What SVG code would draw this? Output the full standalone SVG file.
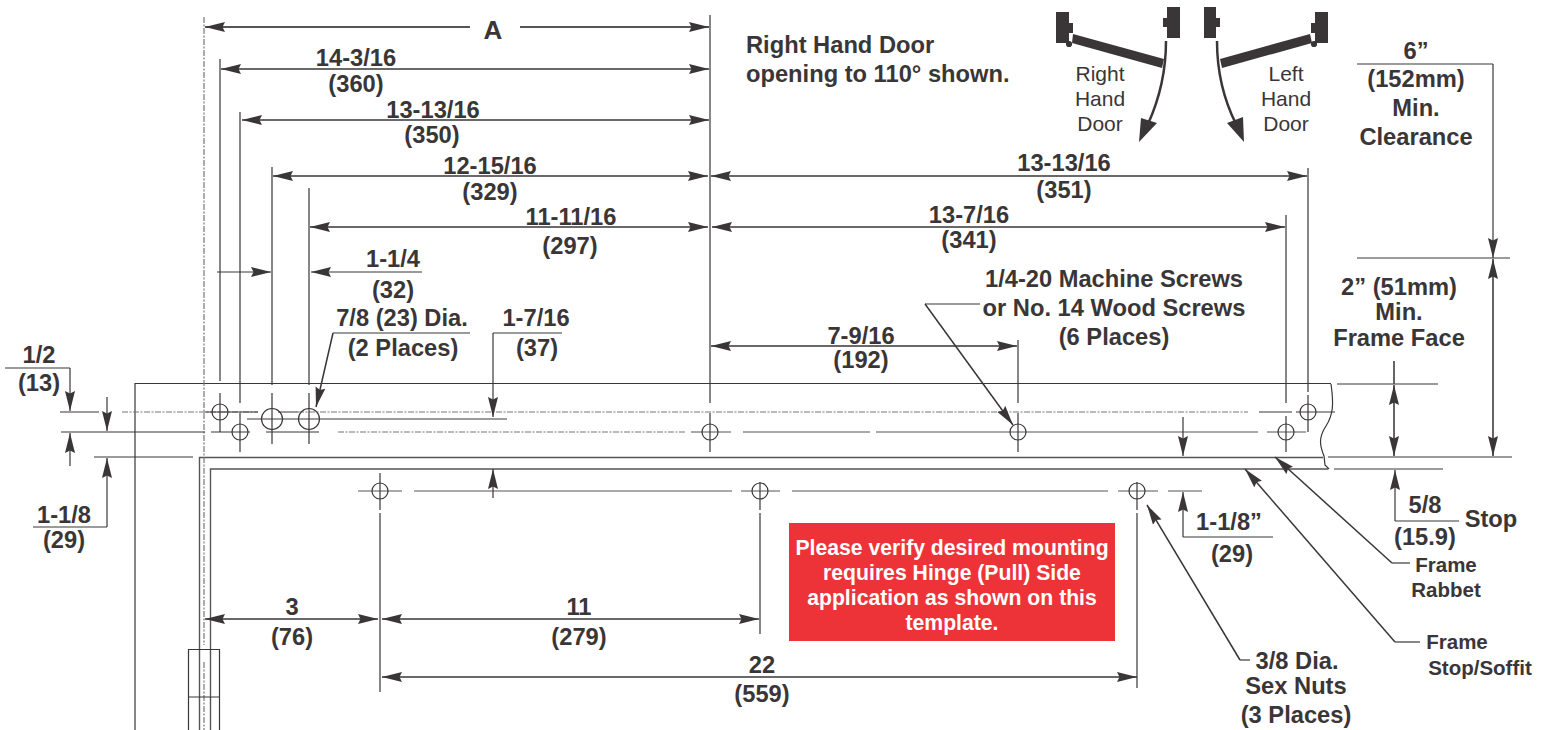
<svg xmlns="http://www.w3.org/2000/svg" width="1549" height="730" viewBox="0 0 1549 730">
<style>
text{font-family:"Liberation Sans",Arial,sans-serif;fill:#3a3637;text-anchor:middle}
.b{font-weight:700;font-size:23.7px}
.s{font-weight:700;font-size:20.5px}
.r{font-size:21px}
.w{font-weight:700;font-size:21.2px;fill:#fff}
.l{fill:none;stroke:#3a3637;stroke-width:1.2}
.t{fill:none;stroke:#555;stroke-width:1.8}
.m{fill:none;stroke:#3a3637;stroke-width:1.5}
.d{fill:none;stroke:#777;stroke-width:1.2;stroke-dasharray:6 1.5 2 1.5}
.a{marker-end:url(#ah)}
.aa{marker-start:url(#ah);marker-end:url(#ah)}
.k{fill:#3a3637}
circle{fill:none;stroke:#3a3637;stroke-width:1.2}
</style>
<defs>
<marker id="ah" markerUnits="userSpaceOnUse" markerWidth="20" markerHeight="11" viewBox="0 0 20 11" refX="20" refY="5.5" orient="auto-start-reverse"><path d="M0 .5L20 5.500L0 10.500L2.500 5.500z" fill="#3a3637"/></marker>
</defs>
<rect width="1549" height="730" fill="#fff"/>
<g id="frame">
<path class="l" d="M135 730V383.500H1331"/>
<path class="l" d="M1331 384C1334 405 1333 415 1326 426C1318 438 1320 446 1324 456L1325 465L1329 469"/>
<path class="t" style="stroke-width:1.4" d="M199.500 730V457.500H1323M210.500 730V469H1328"/>
<path class="d" d="M204 17V645M204 662V730"/>
<path class="d" d="M122 412H258M298 412H1248"/>
<path class="l" d="M60 412H99M205 412H258M278 412H298M1259 412H1292M1296 412H1335"/>
<path class="l" d="M61 432H205M211 432H250M266 432H319"/>
<path class="d" d="M338 432H686"/>
<path class="t" style="stroke-width:1.2" d="M691 432H731M743 432H870M876 432H1258M1267 432H1306"/>
<path class="l" d="M247 419H507M94 457H193"/>
<path class="t" style="stroke-width:1.2" d="M358 491H402M414 491H732M741 491H780M792 491H1108M1118 491H1158M1168 491H1202"/>
</g>
<g id="extensions">
<path class="l" d="M220 59V381M220 393V432"/>
<path class="l" d="M240 112V403M240 413V452"/>
<path class="l" d="M272 167V385M272 393V444"/>
<path class="l" d="M309 188V385M309 393V444"/>
<path class="l" d="M710 15V403M710 413V452"/>
<path class="l" d="M1018 340V403M1018 413V452"/>
<path class="l" d="M1286 215V403M1286 416V452"/>
<path class="l" d="M1308 168V392M1308 395V432"/>
<path class="l" d="M380 473V510M380 513V692M760 482V510M760 513V634M1137 482V510M1137 513V688"/>
</g>
<g id="holes">
<circle cx="220" cy="412" r="8"/><circle cx="240" cy="432" r="8"/>
<circle cx="272" cy="419" r="10.500"/><circle cx="309" cy="419" r="10.500"/>
<circle cx="710" cy="432" r="8"/><circle cx="1018" cy="432" r="8"/>
<circle cx="1286" cy="432" r="8"/><circle cx="1308" cy="412" r="8"/>
<circle cx="380" cy="491" r="8"/><circle cx="760" cy="491" r="8"/><circle cx="1137" cy="491" r="8"/>
</g>
<g id="hinge">
<path class="l" d="M188.500 730V649.500H219.500V730M188.500 697H219.500"/>
</g>
<g id="connectors">
<path class="t a" d="M470 27H205"/><path class="t a" d="M520 27H709"/>
<path class="m aa" d="M221 69H709"/>
<path class="m aa" d="M242 120H709"/>
<path class="m aa" d="M273 176H708"/>
<path class="m aa" d="M310 227H708"/>
<path class="m aa" d="M711 176H1307"/>
<path class="m aa" d="M712 227H1285"/>
<path class="m aa" d="M711 346H1017"/>
<path class="l a" d="M217 272H271"/>
<path class="l a" d="M422 272H311"/>
<path class="l" d="M333 333H470"/><path class="m a" d="M333 333L316 407"/>
<path class="l" d="M493 333H562"/><path class="l a" d="M493 333V417"/>
<path class="l a" d="M493 498V469"/>
<path class="l" d="M5 368H70"/><path class="l a" d="M70 368V411"/>
<path class="l a" d="M107 397V431"/><path class="l a" d="M70 466V433"/>
<path class="l a" d="M107 527V458"/><path class="l" d="M33 527H107"/>
<path class="l a" d="M1183 417V456"/>
<path class="l a" d="M1183 537V492"/><path class="l" d="M1183 537H1273"/>
<path class="l" d="M1337 384H1438M1328 457H1512M1334 469H1443"/>
<path class="l" d="M1357 64H1493M1357 258H1510"/>
<path class="l a" d="M1493 64V258"/>
<path class="t aa" d="M1493 259V456"/>
<path class="t" d="M1394 361V384"/>
<path class="t aa" d="M1394 385V456"/>
<path class="l a" d="M1395 521V470"/><path class="l" d="M1395 521H1459"/>
<path class="m a" d="M1392 563L1275 457"/><path class="l" d="M1392 563H1410"/>
<path class="m a" d="M1395 642L1245 469"/><path class="l" d="M1395 642H1420"/>
<path class="m a" d="M1240 660L1147 505"/><path class="l" d="M1240 660H1250"/>
<path class="l" d="M925 304H980"/><path class="m a" d="M925 304L1013 425"/>
<path class="m aa" d="M205 619H378"/>
<path class="m aa" d="M382 619H759"/>
<path class="m aa" d="M382 677H1137"/>
</g>
<g id="door-right">
<path class="k" d="M1056 12H1069V23H1073V33H1069V43H1056zM1167 7H1180V38H1167V27H1163V18H1167zM1073 34L1164 59L1162 68L1072 43z"/>
<circle cx="1069" cy="44" r="2.500" style="fill:#3a3637"/>
<path d="M1166 41C1166 75 1158 102 1148 124" fill="none" stroke="#3a3637" stroke-width="2.500"/>
<path class="k" d="M1139 142L1141 118L1157 123z"/>
</g>
<g id="door-left">
<path class="k" d="M1204 7H1216V18H1220V27H1216V38H1204zM1315 12H1328V43H1315V33H1311V23H1315zM1310 34L1312 43L1222 68L1220 59z"/>
<circle cx="1314" cy="44" r="2.500" style="fill:#3a3637"/>
<path d="M1217 41C1217 75 1225 102 1236 124" fill="none" stroke="#3a3637" stroke-width="2.500"/>
<path class="k" d="M1244 142L1227 123L1243 117z"/>
</g>
<g id="notice">
<rect x="789" y="523" width="326" height="118" fill="#ee3338"/>
<text class="w" x="952" y="554.500">Please verify desired mounting</text>
<text class="w" x="952" y="579.500">requires Hinge (Pull) Side</text>
<text class="w" x="952" y="604.500">application as shown on this</text>
<text class="w" x="952" y="629.500">template.</text>
</g>
<g id="labels">
<text class="b" x="493" y="39" style="font-size:26px">A</text>
<text class="b" x="356" y="66">14-3/16</text><text class="b" x="356" y="92">(360)</text>
<text class="b" x="433" y="117.500">13-13/16</text><text class="b" x="432" y="143">(350)</text>
<text class="b" x="490" y="174">12-15/16</text><text class="b" x="490" y="200">(329)</text>
<text class="b" x="571" y="225">11-11/16</text><text class="b" x="570" y="254">(297)</text>
<text class="b" x="1064" y="171">13-13/16</text><text class="b" x="1064" y="198">(351)</text>
<text class="b" x="969" y="223">13-7/16</text><text class="b" x="969" y="248">(341)</text>
<text class="b" x="393" y="267">1-1/4</text><text class="b" x="393" y="298">(32)</text>
<text class="b" x="402" y="326">7/8 (23) Dia.</text><text class="b" x="403" y="356">(2 Places)</text>
<text class="b" x="536" y="326">1-7/16</text><text class="b" x="537" y="356">(37)</text>
<text class="b" x="861" y="344">7-9/16</text><text class="b" x="861" y="368">(192)</text>
<text class="b" x="39" y="363">1/2</text><text class="b" x="39" y="391">(13)</text>
<text class="b" x="64" y="523">1-1/8</text><text class="b" x="64" y="548">(29)</text>
<text class="b" x="292" y="615">3</text><text class="b" x="292" y="645">(76)</text>
<text class="b" x="579" y="615">11</text><text class="b" x="579" y="645">(279)</text>
<text class="b" x="762" y="673">22</text><text class="b" x="762" y="702">(559)</text>
<text class="b" x="746" y="53" style="text-anchor:start">Right Hand Door</text>
<text class="b" x="746" y="82" style="text-anchor:start">opening to 110° shown.</text>
<text class="r" x="1100" y="81">Right</text><text class="r" x="1100" y="106">Hand</text><text class="r" x="1100" y="131">Door</text>
<text class="r" x="1286" y="81">Left</text><text class="r" x="1286" y="106">Hand</text><text class="r" x="1286" y="131">Door</text>
<text class="b" x="1416" y="59">6”</text><text class="b" x="1416" y="87">(152mm)</text><text class="b" x="1416" y="116">Min.</text><text class="b" x="1416" y="145">Clearance</text>
<text class="b" x="1399" y="295">2” (51mm)</text><text class="b" x="1399" y="320">Min.</text><text class="b" x="1399" y="346">Frame Face</text>
<text class="b" x="1114" y="287">1/4-20 Machine Screws</text><text class="b" x="1114" y="316">or No. 14 Wood Screws</text><text class="b" x="1114" y="345">(6 Places)</text>
<text class="b" x="1425" y="513">5/8</text><text class="b" x="1425" y="545">(15.9)</text><text class="b" x="1491" y="527">Stop</text>
<text class="b" x="1229" y="530">1-1/8”</text><text class="b" x="1232" y="562">(29)</text>
<text class="s" x="1446" y="572">Frame</text><text class="s" x="1446" y="597">Rabbet</text>
<text class="s" x="1457" y="649">Frame</text><text class="s" x="1480" y="675">Stop/Soffit</text>
<text class="b" x="1297" y="669">3/8 Dia.</text><text class="b" x="1296" y="694">Sex Nuts</text><text class="b" x="1296" y="723">(3 Places)</text>
</g>
</svg>
